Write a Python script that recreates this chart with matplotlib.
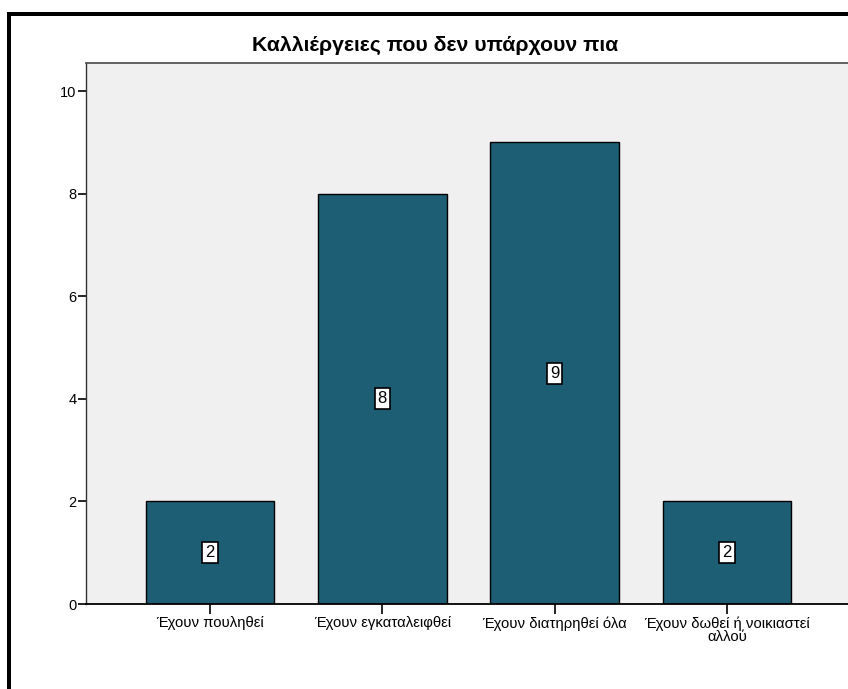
import matplotlib
matplotlib.use("Agg")
import matplotlib.pyplot as plt
from matplotlib.patches import Rectangle

categories = ["Έχουν πουληθεί", "Έχουν εγκαταλειφθεί", "Έχουν διατηρηθεί όλα",
              "Έχουν δωθεί ή νοικιαστεί\nαλλού"]
values = [2, 8, 9, 2]
yticks = [0, 2, 4, 6, 8, 10]
title = "Καλλιέργειες που δεν υπάρχουν πια"

plt.rcParams['font.family'] = ['Liberation Sans', 'DejaVu Sans']

W, H = 848, 689
fig = plt.figure(figsize=(W / 100, H / 100), dpi=100)
fig.patch.set_facecolor("white")

# outer frame lines (top and left)
fig.add_artist(Rectangle((7 / W, 0), 4 / W, 1 - 12 / H, transform=fig.transFigure,
                         facecolor="black", edgecolor="none"))
fig.add_artist(Rectangle((7 / W, 1 - 16 / H), 1, 4 / H, transform=fig.transFigure,
                         facecolor="black", edgecolor="none"))

left, right, top, bottom = 86, 851, 63, 604
ax = fig.add_axes([left / W, 1 - bottom / H, (right - left) / W, (bottom - top) / H])
ax.set_facecolor("#f0f0f0")

x = list(range(len(categories)))
ax.bar(x, values, width=0.745, color="#1e5e75", edgecolor="black", linewidth=1, zorder=2)
for xi, v in zip(x, values):
    ax.text(xi, v / 2, str(v), ha="center", va="center", fontsize=12, zorder=3,
            bbox=dict(boxstyle="square,pad=0.18", facecolor="white", edgecolor="black", linewidth=1.2))

ax.set_xlim(-0.72, 3.72)
ax.set_ylim(0, 10.55)
ax.set_yticks(yticks)
ax.set_yticklabels([str(t) for t in yticks], fontsize=10.5)
ax.set_xticks(x)
ax.set_xticklabels(categories, fontsize=10.7, linespacing=0.9)
ax.tick_params(axis="y", direction="out", length=6, width=1.2, pad=1, colors="black")
ax.tick_params(axis="x", direction="out", length=7, width=1.2, pad=2, colors="black")

ax.spines["right"].set_visible(False)
ax.spines["top"].set_color("#555555")
ax.spines["top"].set_linewidth(1.3)
ax.spines["left"].set_color("#333333")
ax.spines["left"].set_linewidth(1)
ax.spines["bottom"].set_color("black")
ax.spines["bottom"].set_linewidth(1.3)

fig.text(435 / W, 1 - 45 / H, title, ha="center", va="center", fontsize=15.3, fontweight="bold")

fig.savefig("out.png", dpi=100)
